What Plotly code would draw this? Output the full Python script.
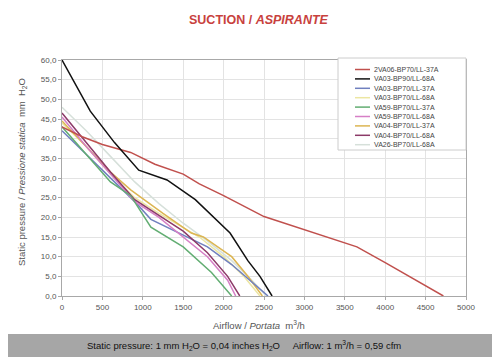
import plotly.graph_objects as go

# ---- data ----
names = ["2VA06-BP70/LL-37A", "VA03-BP90/LL-68A", "VA03-BP70/LL-37A", "VA03-BP70/LL-68A",
         "VA59-BP70/LL-37A", "VA59-BP70/LL-68A", "VA04-BP70/LL-37A", "VA04-BP70/LL-68A",
         "VA26-BP70/LL-68A"]
colors = ["#c0504d", "#111111", "#7080bf", "#ece6a2", "#62ad72", "#d67fc6", "#dcb552",
          "#8c3a68", "#d6e0da"]

x_2va06_37 = [0, 250, 500, 850, 1150, 1500, 1700, 2000, 2500, 3000, 3650, 4000, 4720]
y_2va06_37 = [43, 40.5, 38.5, 36.5, 33.5, 31, 28.5, 25.5, 20.2, 16.8, 12.5, 8.5, 0]

x_va03_bp90_68 = [0, 350, 650, 950, 1300, 1650, 2080, 2300, 2450, 2600]
y_va03_bp90_68 = [60, 47, 39, 32, 29.5, 24.5, 16, 9, 5, 0]

x_va03_37 = [0, 300, 600, 900, 1100, 1400, 1800, 2100, 2350, 2550]
y_va03_37 = [42, 36, 30, 24, 19.5, 16.5, 12.5, 8, 3.5, 0]

x_va03_68 = [0, 300, 600, 900, 1200, 1500, 1700, 2000, 2250, 2450]
y_va03_68 = [44, 38, 31, 25, 21, 17.5, 15, 10, 5, 0]

x_va59_37 = [0, 300, 600, 850, 1100, 1500, 1850, 2100]
y_va59_37 = [43, 36, 29, 25.5, 17.5, 12.5, 6, 0]

x_va59_68 = [0, 300, 600, 900, 1200, 1500, 1800, 2050, 2150]
y_va59_68 = [45.5, 38, 31, 24, 20, 15, 10, 4, 0]

x_va04_37 = [0, 300, 600, 850, 1250, 1600, 1750, 2100, 2300, 2480]
y_va04_37 = [44.5, 38, 31.5, 27, 21, 16, 15, 10, 5, 0]

x_va04_68 = [0, 300, 600, 900, 1200, 1500, 1800, 2050, 2200]
y_va04_68 = [46.5, 39, 31.5, 24.5, 20.5, 16.5, 11, 5, 0]

x_va26_68 = [0, 300, 600, 900, 1200, 1500, 1800, 2100, 2350, 2530]
y_va26_68 = [48, 42, 35.5, 29, 23.5, 18.5, 14, 9, 4, 0]

xs = [x_2va06_37, x_va03_bp90_68, x_va03_37, x_va03_68, x_va59_37, x_va59_68, x_va04_37, x_va04_68, x_va26_68]
ys = [y_2va06_37, y_va03_bp90_68, y_va03_37, y_va03_68, y_va59_37, y_va59_68, y_va04_37, y_va04_68, y_va26_68]

x_ticks = list(range(0, 5001, 500))
y_ticks = list(range(0, 61, 5))
y_tick_labels = [f"{v},0" for v in y_ticks]

# ---- figure ----
fig = go.Figure()
order = [8, 3, 6, 2, 5, 7, 4, 0, 1]
for i in order:
    fig.add_trace(go.Scatter(x=xs[i], y=ys[i], mode="lines", name=names[i],
                             line=dict(color=colors[i], width=1.5), showlegend=False))

OFF = 8  # page body margin
PW, PH = 500, 357
L, R, T, B = 62, 466, 60, 296  # plot area in page pixels
pw, ph = R - L, B - T


def px(xp):
    return (xp - L) / pw


def py(yp):
    return (B - yp) / ph


fig.update_layout(
    width=PW - OFF, height=PH - OFF,
    margin=dict(l=L - OFF, r=PW - R, t=T - OFF, b=PH - B, pad=0),
    paper_bgcolor="white", plot_bgcolor="white",
    font=dict(family="Liberation Sans, Arial, sans-serif", color="#555555", size=8),
    xaxis=dict(range=[0, 5000], tickvals=x_ticks, showgrid=True, gridcolor="#e3e3e3",
               gridwidth=1, showline=True, linecolor="#a8a8a8", mirror=True, zeroline=False,
               ticks="outside", ticklen=3, tickcolor="#a8a8a8", tickfont=dict(size=8, color="#555")),
    yaxis=dict(range=[0, 60], tickvals=y_ticks, ticktext=y_tick_labels, showgrid=True,
               gridcolor="#e3e3e3", gridwidth=1, showline=True, linecolor="#a8a8a8", mirror=True,
               zeroline=False, ticks="outside", ticklen=3, tickcolor="#a8a8a8",
               tickfont=dict(size=8, color="#555")),
    showlegend=False,
)

shapes = []
annotations = []

# title
annotations.append(dict(x=px(259), y=py(20), xref="paper", yref="paper", showarrow=False,
                        text="<b>SUCTION / <i>ASPIRANTE</i></b>",
                        font=dict(size=12.5, color="#c8413d", family="Liberation Sans, Arial"),
                        xanchor="center", yanchor="middle"))
# axis titles
annotations.append(dict(x=px(259), y=py(325), xref="paper", yref="paper", showarrow=False,
                        text="Airflow / <i>Portata</i>  m<sup>3</sup>/h",
                        font=dict(size=9.5, color="#555555"), xanchor="center", yanchor="middle"))
annotations.append(dict(x=px(22), y=py(172), xref="paper", yref="paper", showarrow=False,
                        text="Static pressure / <i>Pressione statica</i>  mm  H<sub>2</sub>O",
                        textangle=-90, font=dict(size=9.5, color="#555555"),
                        xanchor="center", yanchor="middle"))

# bottom band
shapes.append(dict(type="rect", xref="paper", yref="paper", x0=px(-5), x1=px(505),
                   y0=py(334), y1=py(362), fillcolor="#a6a6a6", line=dict(width=0), layer="above"))
annotations.append(dict(x=px(244), y=py(345.5), xref="paper", yref="paper", showarrow=False,
                        text="Static pressure: 1 mm H<sub>2</sub>O = 0,04 inches H<sub>2</sub>O"
                             "     Airflow: 1 m<sup>3</sup>/h = 0,59 cfm",
                        font=dict(size=9.5, color="#111111",
                                  family="Liberation Sans Narrow, Arial Narrow, Liberation Sans, Arial"),
                        xanchor="center", yanchor="middle"))

# legend box
shapes.append(dict(type="rect", xref="paper", yref="paper", x0=px(338), x1=px(466),
                   y0=py(150), y1=py(58), fillcolor="white", line=dict(color="#cccccc", width=1),
                   layer="above"))
for k, (nm, c) in enumerate(zip(names, colors)):
    yy = 69.5 + 9.4 * k
    shapes.append(dict(type="line", xref="paper", yref="paper", x0=px(355), x1=px(370),
                       y0=py(yy), y1=py(yy), line=dict(color=c, width=1.5), layer="above"))
    annotations.append(dict(x=px(372), y=py(yy), xref="paper", yref="paper", showarrow=False,
                            text=nm, font=dict(size=7, color="#444444"),
                            xanchor="left", yanchor="middle"))

fig.update_layout(shapes=shapes, annotations=annotations)
fig.write_html("out.html")
